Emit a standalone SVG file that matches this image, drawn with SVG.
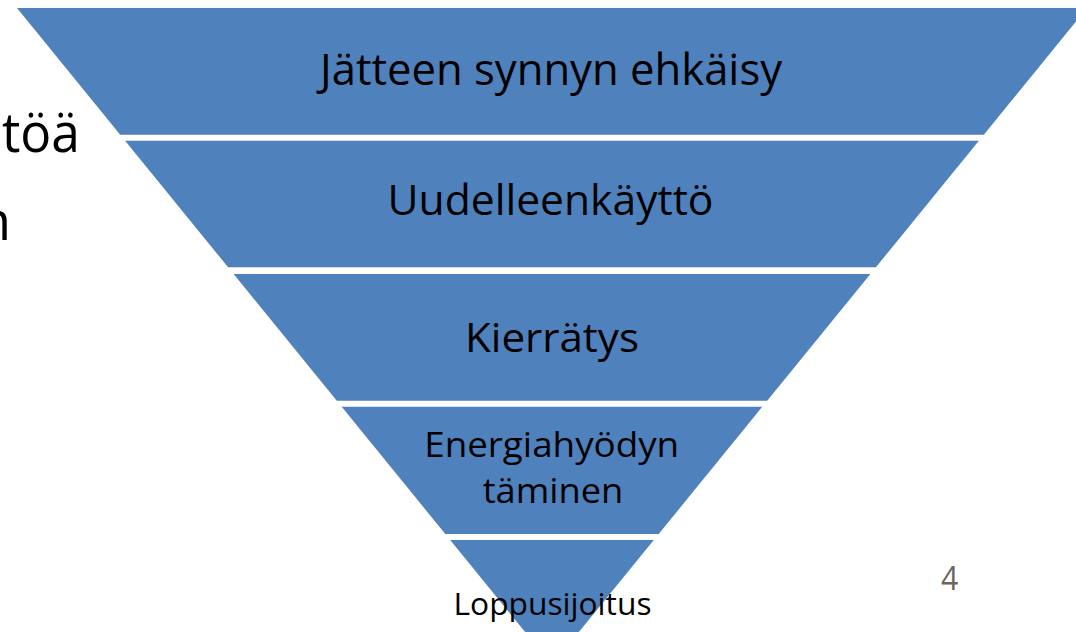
<svg xmlns="http://www.w3.org/2000/svg" width="1076" height="632" viewBox="0 0 1076 632">
  <style>
    .band { fill: #4F81BD; }
    .lbl { font-family: "Open Sans", "Liberation Sans", sans-serif; fill: #000000; text-anchor: middle; }
    .bg { font-family: "Open Sans", "Liberation Sans", sans-serif; fill: #000000; font-size: 54px; }
    .pg { font-family: "Open Sans", "Liberation Sans", sans-serif; fill: #6A655F; font-size: 32px; text-anchor: middle; }
  </style>
  <rect width="1076" height="632" fill="#FFFFFF"/>
  <g id="background-text">
    <text class="bg" x="2" y="151.5" textLength="78" lengthAdjust="spacingAndGlyphs">töä</text>
    <text class="bg" x="11" y="240" text-anchor="end">n</text>
  </g>
  <g id="level1">
    <polygon class="band" points="17,8 1087,8 983.8,134.7 120.2,134.7"/>
    <text class="lbl" x="551" y="85" font-size="44" textLength="462" lengthAdjust="spacingAndGlyphs">Jätteen synnyn ehkäisy</text>
  </g>
  <g id="level2">
    <polygon class="band" points="125.1,140.7 978.9,140.7 875.9,267.3 228.1,267.3"/>
    <text class="lbl" x="550.5" y="215" font-size="42" textLength="326" lengthAdjust="spacingAndGlyphs">Uudelleenkäyttö</text>
  </g>
  <g id="level3">
    <polygon class="band" points="233.6,274 870.4,274 767.2,400.7 336.8,400.7"/>
    <text class="lbl" x="552" y="351.5" font-size="40" textLength="174" lengthAdjust="spacingAndGlyphs">Kierrätys</text>
  </g>
  <g id="level4">
    <polygon class="band" points="341.7,406.7 762.3,406.7 658.7,534 445.3,534"/>
    <text class="lbl" x="551.7" y="457.3" font-size="34" textLength="255" lengthAdjust="spacingAndGlyphs">Energiahyödyn</text>
    <text class="lbl" x="553" y="503.3" font-size="34" textLength="140.6" lengthAdjust="spacingAndGlyphs">täminen</text>
  </g>
  <g id="level5">
    <polygon class="band" points="450.2,540 653.8,540 552,665"/>
    <text class="lbl" x="552.5" y="615" font-size="31" textLength="198" lengthAdjust="spacingAndGlyphs">Loppusijoitus</text>
  </g>
  <g id="connectors"></g>
  <g id="page-number">
    <text class="pg" x="949.6" y="590" textLength="17.3" lengthAdjust="spacingAndGlyphs">4</text>
  </g>
</svg>
